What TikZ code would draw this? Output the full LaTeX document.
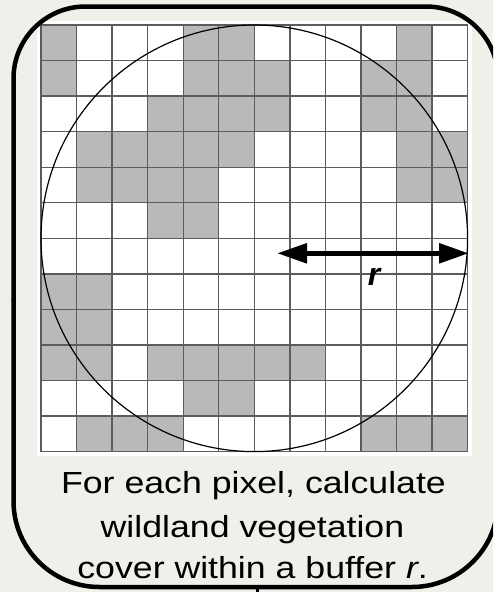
\documentclass[tikz,border=0pt]{standalone}
\usepackage{fontspec}
\setmainfont{Liberation Sans}
\newfontfamily\captionfont{Liberation Sans}[FakeStretch=1.17]
\usetikzlibrary{arrows.meta}
\definecolor{bg}{HTML}{EEF0EA}
\definecolor{cellgray}{HTML}{B9B9B9}
\definecolor{gridline}{HTML}{5C5C5C}
\tikzset{
  cellfill/.style={fill=cellgray},
  gridstroke/.style={draw=gridline, line width=1.3pt},
  frame/.style={draw=black, line width=4.5pt},
  captionline/.style={anchor=base, font=\captionfont\fontsize{30.5}{36}\selectfont},
  radiusarrow/.style={line width=5.5pt, {Triangle[length=30pt,width=19pt]}-{Triangle[length=30pt,width=19pt]}},
}
\begin{document}
\begin{tikzpicture}[x=1pt,y=-1pt]
\useasboundingbox (0,0) rectangle (493,592);
\clip (0,0) rectangle (493,592);
\fill[bg] (0,0) rectangle (493,592);
% white backing of the grid image
\fill[white] (37,21) rectangle (472,455.5);
% gray cells
\foreach \r/\c in {1/1,1/5,1/6,1/11,
                   2/1,2/5,2/6,2/7,2/10,2/11,
                   3/4,3/5,3/6,3/7,3/10,3/11,
                   4/2,4/3,4/4,4/5,4/6,4/11,4/12,
                   5/2,5/3,5/4,5/5,5/11,5/12,
                   6/4,6/5,
                   8/1,8/2,
                   9/1,9/2,
                   10/1,10/2,10/4,10/5,10/6,10/7,10/8,
                   11/5,11/6,
                   12/2,12/3,12/4,12/10,12/11,12/12}
  \fill[cellfill] ({41+(\c-1)*35.55},{25+(\r-1)*35.55}) rectangle ++(35.55,35.55);
% grid lines
\foreach \i in {0,...,12} {
  \draw[gridstroke] ({41+\i*35.55},25) -- ({41+\i*35.55},451.6);
  \draw[gridstroke] (41,{25+\i*35.55}) -- (467.6,{25+\i*35.55});
}
% buffer circle
\node[circle, draw=black, line width=1.2pt, minimum size=426.6pt, inner sep=0pt] (buffer) at (254.3,238.3) {};
% radius arrow
\coordinate (arrowL) at (277,253.3);
\coordinate (arrowR) at (469,253.3);
\draw[radiusarrow] (arrowL) -- (arrowR);
\node[font=\fontsize{32}{36}\selectfont\bfseries\itshape, inner sep=0pt] (rlabel) at (374,276.5) {r};
% rounded frame
\draw[frame, rounded corners=72pt] (13.5,300) -- (13.5,6.5) -- (498,6.5) -- (498,300);
\draw[frame, rounded corners=86pt] (498,299) -- (498,587) -- (13.5,587) -- (13.5,299);
% stub connector at the bottom
\coordinate (stubtop) at (257,587);
\coordinate (stubbot) at (257,593);
\draw[line width=3pt] (stubtop) -- (stubbot);
% caption
\node[captionline] (cap1) at (253.5,493) {For each pixel, calculate};
\node[captionline] (cap2) at (252.5,537) {wildland vegetation};
\node[captionline] (cap3) at (252.6,578) {cover within a buffer \textit{r}.};
\end{tikzpicture}
\end{document}
